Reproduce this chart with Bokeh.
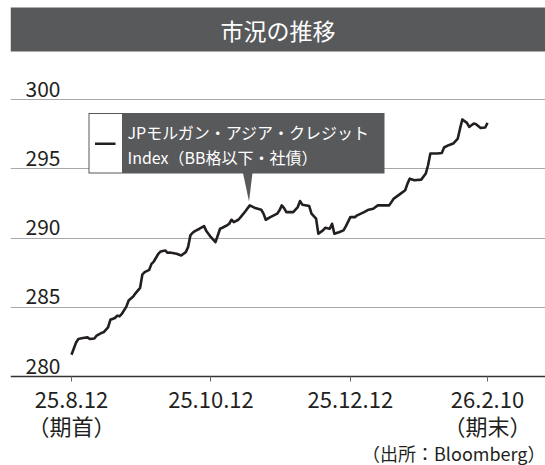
from datetime import datetime
from bokeh.plotting import figure
from bokeh.models import Range1d, FixedTicker, Grid
from bokeh.core.properties import value
from bokeh.embed import file_html
from bokeh.resources import INLINE

# ---------------- data ----------------
dates = [
    "2025-08-12", "2025-08-14", "2025-08-15", "2025-08-17", "2025-08-19", "2025-08-20",
    "2025-08-22", "2025-08-23", "2025-08-25", "2025-08-26", "2025-08-28", "2025-08-29",
    "2025-08-31", "2025-09-01", "2025-09-02", "2025-09-03", "2025-09-05", "2025-09-06",
    "2025-09-08", "2025-09-09", "2025-09-11", "2025-09-12", "2025-09-13", "2025-09-15",
    "2025-09-16", "2025-09-17", "2025-09-19", "2025-09-20", "2025-09-22", "2025-09-23",
    "2025-09-24", "2025-09-27", "2025-09-29", "2025-10-01", "2025-10-02", "2025-10-03",
    "2025-10-04", "2025-10-05", "2025-10-07", "2025-10-09", "2025-10-10", "2025-10-12",
    "2025-10-14", "2025-10-16", "2025-10-17", "2025-10-19", "2025-10-20", "2025-10-21",
    "2025-10-22", "2025-10-24", "2025-10-25", "2025-10-27", "2025-10-29", "2025-10-31",
    "2025-11-03", "2025-11-04", "2025-11-05", "2025-11-07", "2025-11-10", "2025-11-11",
    "2025-11-12", "2025-11-13", "2025-11-14", "2025-11-17", "2025-11-19", "2025-11-20",
    "2025-11-21", "2025-11-24", "2025-11-25", "2025-11-27", "2025-11-28", "2025-11-30",
    "2025-12-01", "2025-12-03", "2025-12-04", "2025-12-05", "2025-12-07", "2025-12-09",
    "2025-12-10", "2025-12-12", "2025-12-14", "2025-12-15", "2025-12-18", "2025-12-20",
    "2025-12-22", "2025-12-24", "2025-12-26", "2025-12-29", "2025-12-31", "2026-01-03",
    "2026-01-05", "2026-01-06", "2026-01-07", "2026-01-09", "2026-01-12", "2026-01-14",
    "2026-01-15", "2026-01-16", "2026-01-19", "2026-01-21", "2026-01-22", "2026-01-24",
    "2026-01-26", "2026-01-28", "2026-01-29", "2026-01-30", "2026-02-01", "2026-02-02",
    "2026-02-04", "2026-02-05", "2026-02-07", "2026-02-09", "2026-02-10",
]
index_values = [
    281.57, 282.46, 282.71, 282.78, 282.83, 282.71,
    282.75, 282.95, 283.14, 283.19, 283.55, 284.10,
    284.23, 284.40, 284.35, 284.52, 285.05, 285.49,
    285.78, 286.01, 286.40, 287.37, 287.54, 287.71,
    288.14, 288.31, 288.87, 289.04, 289.11, 288.94,
    288.96, 288.87, 288.75, 288.99, 289.35, 290.20,
    290.39, 290.51, 290.68, 290.87, 290.51, 290.07,
    289.71, 290.68, 290.75, 290.92, 291.04, 291.33,
    291.16, 291.33, 291.52, 291.93, 292.37, 292.20,
    292.06, 291.77, 291.33, 291.52, 291.77, 292.01,
    292.37, 292.17, 291.88, 291.88, 292.25, 292.68,
    292.42, 292.32, 291.77, 291.41, 290.32, 290.56,
    290.75, 290.68, 291.04, 290.32, 290.43, 290.56,
    290.85, 291.52, 291.52, 291.65, 291.88, 292.06,
    292.13, 292.37, 292.37, 292.37, 292.86, 293.22,
    293.46, 293.94, 294.30, 294.18, 294.23, 294.67,
    295.27, 296.12, 296.12, 296.16, 296.55, 296.72,
    296.84, 297.20, 297.93, 298.58, 298.33, 298.04,
    298.29, 298.24, 297.97, 298.00, 298.33,
]

title_text = "市況の推移"
series_label = ["JPモルガン・アジア・クレジット", "Index（BB格以下・社債）"]
y_ticks = [280, 285, 290, 295, 300]
y_tick_labels = ["280", "285", "290", "295", "300"]
x_tick_dates = ["2025-08-12", "2025-10-12", "2025-12-12", "2026-02-10"]
x_tick_labels = ["25.8.12\n（期首）", "25.10.12", "25.12.12", "26.2.10\n（期末）"]
source_text = "（出所：Bloomberg）"

# ---------------- layout helpers ----------------
FONT = "Noto Sans CJK JP"
DARK = "#58595b"
INK = "#231f20"
DAY_MS = 86400000.0


def to_ms(s):
    return datetime.strptime(s, "%Y-%m-%d").timestamp() * 1000.0


W, H = 545, 465
FRAME_L, FRAME_R = 10, 545
AXIS_PX = 376.0
T0 = to_ms(x_tick_dates[0])
PX_T0 = 71.0
PX_PER_DAY = (487.0 - 71.0) / 182.0
PX_PER_UNIT = (376.0 - 99.3) / 20.0


def xd(px):
    return T0 + (px - PX_T0) / PX_PER_DAY * DAY_MS


def yd(py):
    return 280.0 + (AXIS_PX - py) / PX_PER_UNIT


x_dt = [datetime.strptime(d, "%Y-%m-%d") for d in dates]

p = figure(
    width=W, height=H, output_backend="svg", toolbar_location=None,
    x_axis_type="datetime", y_axis_location=None,
    x_range=Range1d(xd(FRAME_L), xd(FRAME_R)),
    y_range=Range1d(yd(H), yd(0)),
    min_border_left=FRAME_L, min_border_right=0, min_border_top=0,
    min_border_bottom=0,
)
p.outline_line_color = None
p.background_fill_color = "white"
p.border_fill_color = "white"
p.xgrid.visible = False
p.ygrid.visible = False

p.add_layout(Grid(dimension=1, ticker=FixedTicker(ticks=y_ticks[1:]),
                  grid_line_color="#a9a9a9", grid_line_width=1.2))

# x axis, pinned at the 280 level
tick_ms = [to_ms(d) for d in x_tick_dates]
ax = p.xaxis[0]
ax.fixed_location = y_ticks[0]
ax.ticker = FixedTicker(ticks=tick_ms)
ax.major_label_overrides = {t: l for t, l in zip(tick_ms, x_tick_labels)}
ax.axis_line_color = "#333333"
ax.axis_line_width = 1.5
ax.major_tick_line_color = "#666666"
ax.major_tick_in = 0
ax.major_tick_out = 5
ax.minor_tick_out = 0
ax.minor_tick_in = 0
ax.major_label_standoff = 0
ax.major_label_text_font = FONT
ax.major_label_text_font_size = "22px"
ax.major_label_text_color = INK
ax.major_label_text_line_height = 0.86

# y tick labels above grid lines
p.text(x=[xd(25)] * len(y_ticks), y=y_ticks, text=y_tick_labels,
       text_font=value(FONT), text_font_size="21px", text_color=INK,
       text_align="left", text_baseline="bottom", y_offset=-3)

# title bar
p.quad(left=[xd(FRAME_L)], right=[xd(FRAME_R)], top=[yd(7)], bottom=[yd(51)],
       fill_color=DARK, line_color=None)
p.text(x=[xd(277.5)], y=[yd(29)], text=[title_text], text_font=value(FONT),
       text_font_size="23px", text_color="white", text_align="center",
       text_baseline="middle")

# series line
p.line(x=x_dt, y=index_values, line_color=INK, line_width=2.6, line_join="round")

# legend callout
p.patch(x=[xd(242.5), xd(252.0), xd(248.5)], y=[yd(172.5), yd(172.5), yd(201)],
        fill_color=DARK, line_color=None)
p.quad(left=[xd(88)], right=[xd(384)], top=[yd(112.5)], bottom=[yd(173)],
       fill_color=DARK, line_color=None)
p.quad(left=[xd(89)], right=[xd(121.5)], top=[yd(113.5)], bottom=[yd(172)],
       fill_color="white", line_color=None)
p.line(x=[xd(94.5), xd(115)], y=[yd(143.3), yd(143.3)], line_color=INK, line_width=2.5)
p.text(x=[xd(127)] * 2, y=[yd(131.7), yd(156.7)], text=series_label,
       text_font=value(FONT), text_font_size="16px", text_color="white",
       text_align="left", text_baseline="middle")

# source note
p.text(x=[xd(545)], y=[yd(452)], text=[source_text], text_font=value(FONT),
       text_font_size="18px", text_color=INK, text_align="right",
       text_baseline="middle")

open("out.html", "w").write(file_html(p, INLINE))
